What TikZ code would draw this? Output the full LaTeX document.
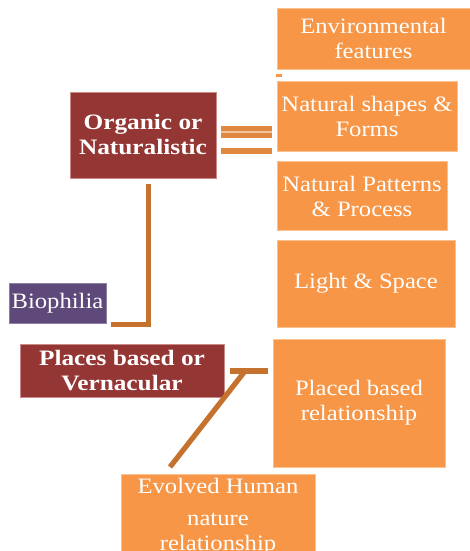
\documentclass[tikz,border=0pt]{standalone}
\usepackage{fontspec}
\setmainfont{Liberation Serif}[FakeStretch=1.12]
\newfontfamily\bfam{Liberation Serif}[FakeStretch=1.15]
\usetikzlibrary{calc}
\definecolor{boxorange}{HTML}{F79646}
\definecolor{boxedge}{HTML}{FAC08F}
\definecolor{darkred}{HTML}{943634}
\definecolor{rededge}{HTML}{C98A88}
\definecolor{purp}{HTML}{5F497A}
\definecolor{connA}{HTML}{E0883F}
\definecolor{connB}{HTML}{C6722F}
\definecolor{stripe}{HTML}{F2C49C}
\tikzset{
  txt/.style={font=\fontsize{22}{25}\selectfont, text=white, align=center, inner xsep=0pt},
  obox/.style={txt, fill=boxorange, draw=boxedge, line width=0.8pt},
  rbox/.style={fill=darkred, draw=rededge, line width=0.8pt, text=white, align=center, inner xsep=0pt,
               font=\bfam\bfseries\fontsize{22}{25}\selectfont},
  pbox/.style={txt, fill=purp, draw=purp!70!white, line width=0.8pt},
  connL/.style={draw=connB, line width=5.2pt, line join=miter, line cap=butt},
  bar/.style={draw=connA, line cap=butt},
}
\begin{document}
\begin{tikzpicture}[x=1pt,y=-1pt]
\useasboundingbox (0,0) rectangle (470,551);
\clip (0,0) rectangle (470,551);
\fill[white] (0,0) rectangle (470,551);

% right column
\node[obox, minimum width=193pt, minimum height=61pt] (env) at (373.5,38.5) {Environmental\\features};
\fill[boxorange] (276,74) rectangle (282,76.5);
\node[obox, minimum width=180pt, minimum height=70pt] (shapes) at (367,116) {Natural shapes \&\\Forms};
\node[obox, minimum width=170pt, minimum height=69pt] (patterns) at (362,196) {Natural Patterns\\\& Process};
\node[obox, minimum width=178pt, minimum height=87pt] (light) at (366,283.5) {Light \& Space};
\node[obox, minimum width=172pt, minimum height=128pt] (placed) at (359,403) {Placed based\\relationship};
\node[obox, anchor=north, minimum width=194pt, inner ysep=4pt] (evolved) at (218,474) {Evolved Human\\[7pt]nature\\relationship};

% left column
\node[rbox, minimum width=146pt, minimum height=86pt] (org) at (143,135) {Organic or\\Naturalistic};
\node[pbox, minimum width=97pt, minimum height=40pt] (bio) at (57.5,303) {Biophilia};
\node[rbox, minimum width=204pt, minimum height=53pt] (places) at (122,370.5) {Places based or\\Vernacular};

% connectors
\draw[bar, line width=11.4pt] ($(org.east)+(5,-3)$) -- ($(shapes.west |- org.east)+(-5,-3)$);
\draw[draw=stripe, line width=1.6pt] ($(org.east)+(5,-3.2)$) -- ($(shapes.west |- org.east)+(-5,-3.2)$);
\draw[bar, line width=5.4pt] ($(org.east)+(5,16)$) -- ($(shapes.west |- org.east)+(-5,16)$);

\draw[connL] ($(org.south)+(5.8,6)$) |- ($(bio.south east)+(5,0.8)$);

\draw[connL] ($(places.east)+(6,0.5)$) -- ($(placed.west |- places.east)+(-5,0.5)$);
\draw[connL] ($(places.east)+(19.5,2)$) -- ($(evolved.north)+(-48,-7)$);
\end{tikzpicture}
\end{document}
